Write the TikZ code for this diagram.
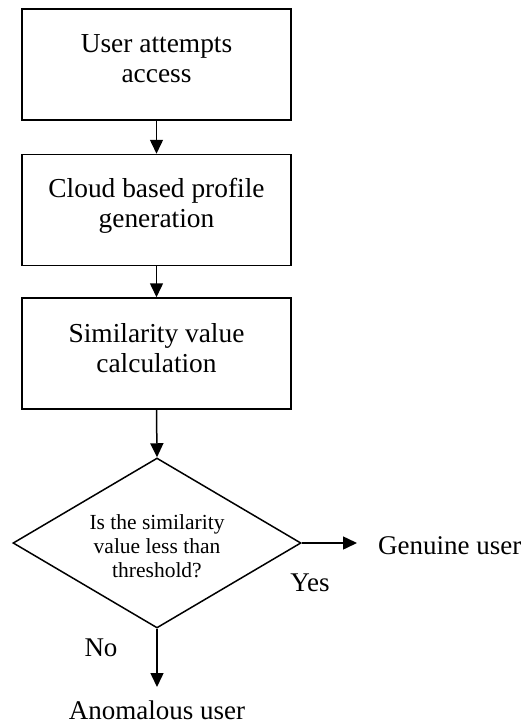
\documentclass[tikz,border=0pt]{standalone}
\usepackage{fontspec}
\setmainfont{Liberation Serif}
\usetikzlibrary{arrows.meta,shapes.geometric}
\begin{document}
\begin{tikzpicture}[x=1pt,y=-1pt,
  box/.style={draw,line width=1.5pt,minimum width=269pt,minimum height=111pt,inner sep=0pt},
  boxtext/.style={align=center,font=\fontsize{27.4}{30}\selectfont,inner sep=0pt},
  lbl/.style={font=\fontsize{27}{30}\selectfont,inner sep=0pt},
  arr/.style={line width=1.5pt,-{Triangle[width=13pt,length=14pt]}}]
\useasboundingbox (0,0) rectangle (525,725);
\node[box] (b1) at (156.5,64.5) {};
\node[boxtext] (t1) at (156.5,58.5) {User attempts\\access};
\node[box] (b2) at (156.5,210) {};
\node[boxtext] (t2) at (156.5,206) {Cloud based profile\\generation};
\node[box] (b3) at (156.5,353.5) {};
\node[boxtext] (t3) at (156.5,348.5) {Similarity value\\calculation};
\node[diamond,draw,line width=1.5pt,minimum width=288pt,minimum height=170pt,inner sep=0pt] (d) at (157,543) {};
\node[align=center,font=\fontsize{21.5}{24}\selectfont,inner sep=0pt] (dt) at (157,546) {Is the similarity\\value less than\\threshold?};
\node[lbl,anchor=west] (gen) at (378,546) {Genuine user};
\node[lbl] (yes) at (310,583) {Yes};
\node[lbl] (no) at (101,648) {No};
\node[lbl,anchor=north] (ano) at (157,701) {Anomalous user};
\coordinate (gtip) at (357,543);
\coordinate (atip) at (157,687);
\draw[arr] (b1.south) -- (b2.north);
\draw[arr] (b2.south) -- (b3.north);
\draw[arr] (b3.south) -- (d.north);
\draw[arr] (d.east) -- (gtip);
\draw[arr] (d.south) -- (atip);
\end{tikzpicture}
\end{document}
